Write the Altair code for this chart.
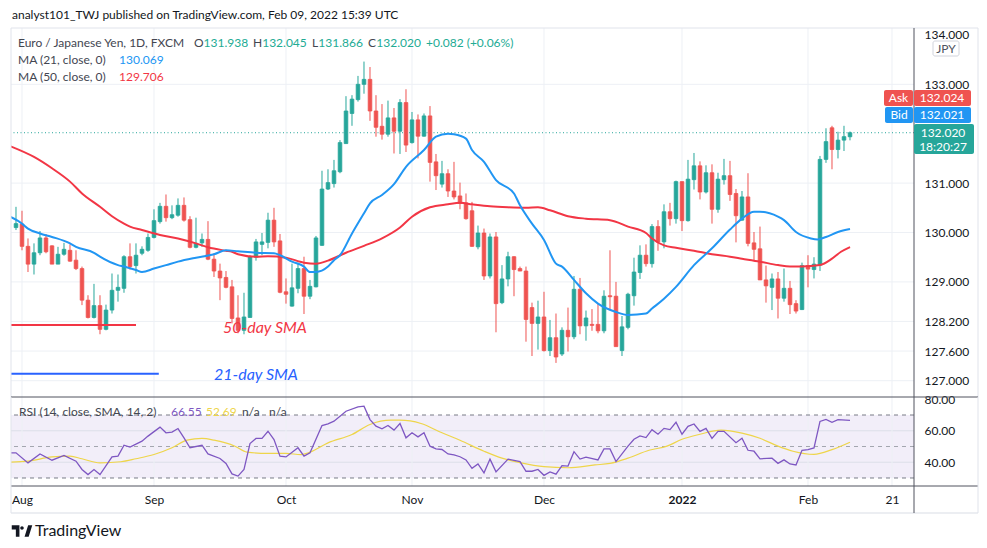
import altair as alt
import pandas as pd

# ---------------- data ----------------
bar_index = list(range(-1, 139))  # trading-day index, 0 = Aug 2 2021

opens = [130.10, 130.17, 129.72, 129.36, 129.59, 129.89, 129.73, 129.36, 129.56, 129.64,
         129.44, 129.27, 128.63, 128.28, 128.52, 128.04, 128.43, 128.83, 128.87, 129.51,
         129.33, 129.58, 129.64, 129.90, 130.22, 130.53, 130.30, 130.35, 130.55, 130.26,
         129.70, 129.79, 129.86, 129.46, 129.22, 129.09, 128.90, 128.27, 128.02, 128.28,
         129.50, 129.76, 129.80, 130.25, 129.83, 128.80, 128.51, 128.87, 129.27, 128.71,
         128.90, 129.74, 130.88, 130.99, 131.23, 131.80, 132.41, 132.69, 133.00, 133.10,
         132.46, 132.15, 131.99, 132.32, 132.05, 132.63, 131.82, 132.28, 131.95, 132.36,
         131.43, 130.98, 131.19, 130.84, 130.74, 130.60, 130.44, 129.71, 129.99, 129.12,
         129.91, 128.58, 129.06, 129.51, 129.27, 129.22, 128.48, 128.16, 128.29, 127.61,
         127.87, 127.54, 128.02, 127.89, 128.85, 128.11, 128.14, 128.14, 128.01, 128.72,
         128.71, 127.61, 128.08, 128.72, 129.19, 129.54, 129.37, 130.12, 129.81, 130.42,
         130.28, 131.03, 130.24, 131.07, 131.35, 130.82, 131.21, 130.47, 131.07, 131.15,
         130.79, 130.25, 130.72, 129.79, 129.67, 129.04, 128.89, 129.06, 128.67, 128.87,
         128.56, 128.44, 129.33, 129.25, 129.34, 131.48, 132.12, 131.68, 131.87, 131.938]
highs = [130.52, 130.44, 129.88, 129.78, 130.03, 129.97, 129.74, 129.71, 129.79, 129.76,
         129.64, 129.31, 128.73, 128.96, 128.73, 128.54, 129.17, 129.15, 129.54, 129.78,
         129.78, 129.72, 129.98, 130.47, 130.60, 130.77, 130.55, 130.69, 130.71, 130.33,
         130.30, 129.98, 130.23, 129.58, 129.37, 129.22, 129.04, 128.73, 128.78, 129.54,
         129.87, 129.99, 130.40, 130.50, 129.97, 129.07, 129.37, 129.39, 129.51, 129.04,
         129.93, 131.25, 131.28, 131.47, 131.87, 132.76, 132.78, 133.17, 133.46, 133.35,
         132.78, 132.60, 132.67, 132.52, 132.70, 132.90, 132.44, 132.39, 132.41, 132.56,
         131.59, 131.45, 131.28, 131.43, 131.01, 130.79, 130.62, 130.14, 130.08, 129.98,
         130.01, 129.34, 129.61, 129.52, 129.31, 129.31, 128.58, 128.62, 128.80, 128.23,
         128.36, 128.08, 128.48, 129.12, 129.08, 128.42, 128.45, 128.56, 128.83, 129.64,
         129.00, 128.31, 128.78, 129.49, 129.74, 129.76, 130.17, 130.25, 130.57, 130.60,
         131.05, 131.03, 131.47, 131.61, 131.44, 131.36, 131.38, 131.21, 131.49, 131.45,
         130.88, 130.84, 131.20, 130.01, 130.12, 129.33, 129.17, 129.20, 129.27, 129.02,
         128.63, 129.39, 129.54, 129.50, 131.55, 132.11, 132.16, 132.04, 132.16, 132.045]
lows = [130.05, 129.64, 129.20, 129.15, 129.54, 129.58, 129.36, 129.36, 129.53, 129.41,
        129.24, 128.53, 128.26, 128.26, 127.94, 128.02, 128.36, 128.60, 128.78, 129.25,
        129.17, 129.54, 129.61, 129.88, 130.18, 130.22, 130.27, 130.32, 130.22, 129.68,
        129.68, 129.71, 129.44, 129.10, 128.63, 128.87, 128.16, 127.96, 127.94, 128.28,
        129.43, 129.54, 129.68, 129.71, 128.77, 128.56, 128.50, 128.77, 128.35, 128.65,
        128.89, 129.73, 130.86, 130.91, 131.20, 131.80, 132.16, 132.65, 132.81, 132.26,
        131.94, 131.88, 131.94, 131.60, 131.59, 131.63, 131.80, 131.50, 131.94, 131.03,
        130.86, 130.91, 130.72, 130.67, 130.47, 130.26, 129.71, 129.66, 129.04, 129.07,
        127.98, 128.55, 128.91, 128.71, 129.22, 127.79, 127.50, 127.63, 127.59, 127.50,
        127.36, 127.50, 127.59, 127.84, 127.94, 127.81, 128.01, 127.96, 127.96, 128.43,
        127.69, 127.50, 128.04, 128.52, 129.06, 129.31, 129.29, 129.63, 129.68, 130.14,
        130.18, 130.03, 130.22, 130.87, 130.67, 130.79, 130.18, 130.40, 130.97, 130.64,
        129.80, 130.24, 129.72, 129.44, 129.04, 128.58, 128.43, 128.26, 128.60, 128.35,
        128.36, 128.43, 128.89, 129.07, 129.22, 131.41, 131.28, 131.50, 131.65, 131.866]
closes = [130.18, 129.72, 129.36, 129.59, 129.89, 129.61, 129.36, 129.56, 129.66, 129.42,
          129.27, 128.63, 128.28, 128.52, 128.04, 128.43, 128.83, 128.89, 129.51, 129.31,
          129.54, 129.66, 129.90, 130.24, 130.53, 130.30, 130.36, 130.55, 130.25, 129.70,
          129.78, 129.86, 129.46, 129.22, 129.08, 128.89, 128.26, 128.02, 128.29, 129.51,
          129.81, 129.81, 130.25, 129.81, 128.79, 128.75, 128.88, 129.27, 128.71, 128.91,
          129.89, 130.88, 131.01, 131.25, 131.82, 132.46, 132.70, 133.00, 133.10, 132.46,
          132.13, 131.99, 132.32, 132.05, 132.63, 131.77, 132.28, 131.95, 132.36, 131.42,
          131.15, 131.19, 130.84, 130.72, 130.59, 130.28, 129.72, 129.99, 129.12, 129.91,
          128.56, 129.06, 129.51, 129.25, 129.22, 128.24, 128.16, 128.29, 127.61, 127.87,
          127.48, 128.02, 127.89, 128.85, 128.11, 128.27, 128.12, 128.01, 128.71, 128.70,
          127.69, 128.09, 128.75, 129.20, 129.54, 129.37, 130.12, 129.81, 130.42, 130.28,
          131.03, 130.24, 131.08, 131.35, 130.82, 131.21, 130.47, 131.08, 131.15, 130.77,
          130.34, 130.72, 129.78, 129.66, 129.04, 128.92, 129.06, 128.67, 128.87, 128.54,
          128.41, 129.33, 129.26, 129.36, 131.48, 131.84, 131.68, 131.87, 131.94, 132.020]

ma21_idx = [-2, 0, 1, 3, 5, 8, 9, 12, 13, 16, 17, 19, 20, 22, 24, 26, 29, 32, 34, 36, 39, 42,
            43, 45, 47, 48, 49, 51, 52, 53, 55, 57, 58, 60, 62, 64, 67, 69, 71, 72, 74, 75,
            77, 79, 82, 83, 85, 87, 89, 90, 92, 94, 96, 99, 101, 104, 105, 107, 109, 112, 115,
            118, 120, 122, 123, 126, 127, 129, 131.5, 132.6, 134, 136, 138]
ma21_val = [130.32, 130.18, 130.08, 129.98, 129.91, 129.78, 129.71, 129.59, 129.51, 129.34,
            129.31, 129.24, 129.20, 129.27, 129.34, 129.41, 129.49, 129.56, 129.64, 129.62,
            129.59, 129.58, 129.54, 129.41, 129.31, 129.20, 129.20, 129.31, 129.44, 129.54,
            129.98, 130.39, 130.59, 130.76, 130.98, 131.33, 131.67, 131.94, 132.00, 131.99,
            131.90, 131.67, 131.43, 131.06, 130.79, 130.55, 130.18, 129.85, 129.37, 129.31,
            129.04, 128.77, 128.56, 128.39, 128.33, 128.36, 128.46, 128.66, 128.90, 129.34,
            129.68, 130.06, 130.28, 130.42, 130.42, 130.32, 130.25, 130.01, 129.88, 129.86,
            129.91, 130.01, 130.069]
ma50_idx = [-2, 2, 5, 8, 10, 13, 15, 17, 18, 20, 23, 26, 29, 31, 34, 35, 36, 39, 41, 44, 47,
            49, 51, 54, 57, 60, 63, 65, 68, 71, 73, 75, 78, 81, 84, 86, 88, 91, 94, 98, 101,
            104, 105, 107, 109, 112, 115, 118, 120, 123, 126, 128, 130, 133, 135, 136.5, 138]
ma50_val = [131.75, 131.53, 131.30, 131.03, 130.79, 130.52, 130.33, 130.18, 130.12, 130.05,
            129.95, 129.88, 129.78, 129.70, 129.63, 129.61, 129.56, 129.51, 129.52, 129.49,
            129.39, 129.37, 129.43, 129.59, 129.73, 129.88, 130.10, 130.32, 130.51, 130.57,
            130.60, 130.57, 130.53, 130.51, 130.50, 130.51, 130.45, 130.33, 130.28, 130.25,
            130.12, 129.99, 129.88, 129.74, 129.69, 129.63, 129.56, 129.51, 129.47, 129.41,
            129.34, 129.31, 129.31, 129.34, 129.47, 129.61, 129.706]

rsi_idx = [-2, -1, 1, 3, 5, 7, 9, 10, 11, 12, 13, 15, 16, 17, 18, 20, 21, 23, 24, 25, 26, 27,
           28, 30, 31, 33, 34, 35, 36, 37, 38, 39, 40, 41, 42, 43, 44, 46, 47, 48, 50, 51, 52,
           54, 56, 57, 58, 59, 60, 61, 62, 63, 64, 65, 66, 67, 68, 69, 70, 71, 72, 73, 74, 75,
           76, 77, 78, 79, 81, 83, 84, 85, 86, 87, 88, 89, 90, 91, 92, 93, 94, 96, 97, 98, 99,
           101, 102, 103, 104, 105, 106, 107, 108, 109, 110, 111, 112, 113, 114, 115, 116, 117,
           119, 120, 121, 122, 123, 125, 126, 127, 128, 129, 130, 131, 132, 133, 134, 135, 136,
           138]
rsi_val = [46.0, 46.0, 39.6, 45.3, 41.3, 44.3, 40.7, 35.4, 32.2, 35.4, 32.2, 43.4, 43.9, 50.8,
           49.6, 53.4, 56.6, 62.3, 58.7, 59.1, 61.4, 55.5, 49.2, 50.8, 45.3, 42.4, 39.2, 32.6,
           31.2, 35.4, 51.9, 55.1, 55.1, 59.7, 54.4, 43.9, 43.4, 49.2, 43.9, 46.0, 63.3, 64.4,
           66.1, 72.4, 75.2, 75.6, 67.1, 62.9, 61.2, 63.3, 60.4, 64.6, 55.5, 58.7, 56.1, 58.7,
           50.2, 48.5, 48.1, 45.3, 44.7, 43.5, 41.5, 36.1, 38.9, 33.3, 42.0, 33.9, 42.0, 40.4,
           34.3, 34.3, 35.4, 31.7, 33.9, 32.4, 37.8, 37.6, 46.7, 42.0, 43.3, 41.5, 48.5, 48.5,
           40.4, 50.2, 54.6, 56.7, 55.7, 60.7, 57.8, 61.5, 60.7, 65.4, 57.8, 62.8, 64.3, 59.6,
           61.5, 55.2, 59.6, 59.6, 52.4, 55.2, 47.6, 47.0, 42.2, 42.6, 39.3, 41.5, 38.9, 38.3,
           47.6, 48.0, 49.1, 65.9, 67.2, 65.4, 67.0, 66.55]
rsima_idx = [-2, 1, 5, 8, 10, 13, 16.5, 19, 22, 25, 27.5, 30, 32, 35.5, 37.5, 41, 44, 46.5, 48,
             51, 55, 58, 61.5, 63, 66.5, 70, 73, 77, 80, 83, 87, 91, 95.5, 98, 101, 104.5,
             107.5, 110, 113, 116.5, 120, 123, 126, 128.5, 132, 135, 138]
rsima_val = [40.1, 40.7, 43.4, 43.9, 42.2, 39.6, 40.3, 42.2, 44.9, 49.2, 54.0, 55.1, 54.0, 50.2,
             46.4, 45.6, 45.6, 44.9, 46.4, 52.3, 57.6, 64.0, 66.7, 66.7, 64.6, 58.7, 54.0, 47.0,
             42.6, 39.8, 37.2, 36.5, 38.3, 39.3, 42.6, 47.6, 50.2, 54.6, 57.8, 60.4, 58.5, 55.2,
             50.2, 47.0, 45.0, 48.0, 52.69]

month_idx = [0, 22, 44, 65, 87, 110, 131, 145]
month_lbl = ["Aug", "Sep", "Oct", "Nov", "Dec", "2022", "Feb", "21"]
price_ticks = [127.0, 127.6, 128.2, 129.0, 130.0, 131.0, 133.0, 134.0]
price_grid = [127.0, 127.6, 128.2, 129.0, 130.0, 131.0, 133.0]
rsi_ticks = [40, 60, 80]
rsi_grid = [40, 60]
rsi_levels = [70, 30]
rsi_mid = [50]
last_price = 132.020
note50 = pd.DataFrame({"i0": [-1.83], "i1": [19.0], "p": [128.13], "ti": [33.5], "tp": [128.07], "t": ["50-day SMA"]})
note21 = pd.DataFrame({"i0": [-1.83], "i1": [22.8], "p": [127.14], "ti": [32.0], "tp": [127.12], "t": ["21-day SMA"]})

# ---------------- style ----------------
FONT = "Lato"
GREEN = "#26a69a"
RED = "#ef5350"
MA21C = "#2196f3"
MA50C = "#f23645"
NOTE_BLUE = "#2962ff"
GRID = "#edf0f5"
DARK = "#50535e"
LIGHT = "#e0e3eb"
TXT = "#131722"
LEG = "#434651"
W, H1, H2 = 903, 369, 89
XDOM = [-1.833, 148.667]
YDOM = [126.67, 134.14]
RDOM = [24.92, 81.43]

xs = alt.Scale(domain=XDOM, nice=False, zero=False)
ys = alt.Scale(domain=YDOM, nice=False, zero=False)
rs = alt.Scale(domain=RDOM, nice=False, zero=False)
one = pd.DataFrame({"k": [0]})

# one axis object per channel, reused by every layer (so layers merge cleanly)
Y_AX = alt.Axis(orient="right", values=price_ticks, format=".3f", title=None, grid=False,
                ticks=False, domain=False, labelPadding=10, labelFont=FONT, labelFontSize=12,
                labelColor=TXT)
R_AX = alt.Axis(orient="right", values=rsi_ticks, format=".2f", title=None, grid=False,
                ticks=False, domain=False, labelPadding=10, labelFont=FONT, labelFontSize=12,
                labelColor=TXT)
label_expr = " : ".join(
    f"datum.value == {v} ? '{t}'" for v, t in zip(month_idx, month_lbl)) + " : ''"
RX_AX = alt.Axis(orient="bottom", values=month_idx, labelExpr=label_expr, title=None,
                 grid=False, ticks=False, domain=False, labelPadding=8, labelFont=FONT,
                 labelFontSize=12, labelColor=TXT,
                 labelFontWeight={"condition": {"test": "datum.value == 110", "value": "bold"},
                                  "value": "normal"})


def txt(x, y, s, color=TXT, size=12, align="left", baseline="middle", weight="normal", style="normal"):
    return alt.Chart(one).mark_text(
        align=align, baseline=baseline, font=FONT, fontSize=size, color=color,
        fontWeight=weight, fontStyle=style
    ).encode(x=alt.value(x), y=alt.value(y), text=alt.value(s))


def hline(y, x0, x1, color, width=1):
    return alt.Chart(one).mark_rule(color=color, strokeWidth=width).encode(
        x=alt.value(x0), x2=alt.value(x1), y=alt.value(y))


def vline(x, y0, y1, color, width=1):
    return alt.Chart(one).mark_rule(color=color, strokeWidth=width).encode(
        x=alt.value(x), y=alt.value(y0), y2=alt.value(y1))


def box(x0, x1, y0, y1, color, stroke=None, radius=2):
    kw = dict(color=color, cornerRadius=radius)
    if stroke:
        kw.update(stroke=stroke, strokeWidth=1)
    return alt.Chart(one).mark_rect(**kw).encode(
        x=alt.value(x0), x2=alt.value(x1), y=alt.value(y0), y2=alt.value(y1))


def PX(field):
    return alt.X(field, scale=xs, axis=None)


def PY(field):
    return alt.Y(field, scale=ys, axis=Y_AX)


def RX(field):
    return alt.X(field, scale=xs, axis=RX_AX)


def RY(field):
    return alt.Y(field, scale=rs, axis=R_AX)


# ---------------- main (price) panel ----------------
cdf = pd.DataFrame({"i": bar_index, "o": opens, "h": highs, "l": lows, "c": closes})
base = alt.Chart(cdf).transform_calculate(
    dir="datum.c >= datum.o ? 'up' : 'down'", xl="datum.i - 0.3", xr="datum.i + 0.3")
dir_scale = alt.Scale(domain=["up", "down"], range=[GREEN, RED])

ygrid = alt.Chart(pd.DataFrame({"p": price_grid})).mark_rule(color=GRID).encode(y=PY("p:Q"))
xgrid = alt.Chart(pd.DataFrame({"i": month_idx})).mark_rule(color=GRID).encode(x=PX("i:Q"))
lastline = alt.Chart(pd.DataFrame({"p": [last_price]})).mark_rule(
    color=GREEN, strokeDash=[1, 2.5], strokeWidth=1).encode(y=PY("p:Q"))

wicks = base.mark_rule(strokeWidth=1, clip=True).encode(
    x=PX("i:Q"), y=PY("l:Q"), y2="h:Q",
    color=alt.Color("dir:N", scale=dir_scale, legend=None))
bodies = base.mark_rect(strokeWidth=0.8, clip=True).encode(
    x=PX("xl:Q"), x2="xr:Q", y=PY("o:Q"), y2="c:Q",
    color=alt.Color("dir:N", scale=dir_scale, legend=None),
    stroke=alt.Stroke("dir:N", scale=dir_scale, legend=None))

ma21 = alt.Chart(pd.DataFrame({"i": ma21_idx, "v": ma21_val})).mark_line(
    color=MA21C, strokeWidth=2, clip=True, interpolate="monotone").encode(x=PX("i:Q"), y=PY("v:Q"))
ma50 = alt.Chart(pd.DataFrame({"i": ma50_idx, "v": ma50_val})).mark_line(
    color=MA50C, strokeWidth=2, clip=True, interpolate="monotone").encode(x=PX("i:Q"), y=PY("v:Q"))


def note_layers(df, color):
    line = alt.Chart(df).mark_rule(strokeWidth=2, color=color).encode(
        x=PX("i0:Q"), x2="i1:Q", y=PY("p:Q"))
    label = alt.Chart(df).mark_text(
        align="left", baseline="middle", font=FONT, fontSize=16, fontStyle="italic",
        color=color).encode(x=PX("ti:Q"), y=PY("tp:Q"), text="t:N")
    return [line, label]


TEAL_T = "#22ab94"
legend_main = [
    txt(1, -18, "analyst101_TWJ published on TradingView.com, Feb 09, 2022 15:39 UTC", baseline="top"),
    txt(7, 15, "Euro / Japanese Yen, 1D, FXCM", color=LEG),
    txt(183, 15, "O", color=LEG), txt(192.5, 15, "131.938", color=TEAL_T),
    txt(242, 15, "H", color=LEG), txt(251.2, 15, "132.045", color=TEAL_T),
    txt(301, 15, "L", color=LEG), txt(307.3, 15, "131.866", color=TEAL_T),
    txt(357, 15, "C", color=LEG), txt(365.3, 15, "132.020", color=TEAL_T),
    txt(415, 15, "+0.082 (+0.06%)", color=TEAL_T),
    txt(7, 32, "MA (21, close, 0)", color=LEG), txt(108, 32, "130.069", color=MA21C),
    txt(7, 49, "MA (50, close, 0)", color=LEG), txt(108, 49, "129.706", color=MA50C),
]

frame_main = [
    hline(0, 0, 967, LIGHT), vline(0, 0, H1, LIGHT), vline(967, 0, H1, LIGHT),
    vline(W, 0, H1, DARK),
]
labels_right = [
    box(922, 948, 13, 28, "white", stroke="#d1d4dc"),
    txt(935, 20.5, "JPY", color="#50535e", size=12, align="center"),
    box(873, 902, 62, 78, RED), txt(887.5, 70, "Ask", color="white", align="center"),
    box(903, 960, 62, 78, RED), txt(931, 70, "132.024", color="white", align="center"),
    box(874, 902, 79, 95, MA21C), txt(888, 87, "Bid", color="white", align="center"),
    box(903, 960, 79, 95, MA21C), txt(931, 87, "132.021", color="white", align="center"),
    box(903, 963, 96, 126, GREEN), txt(932, 104.5, "132.020", color="white", align="center"),
    txt(932, 119, "18:20:27", color="white", align="center"),
]

main = alt.layer(
    ygrid, xgrid, lastline, wicks, bodies, ma50, ma21,
    *note_layers(note50, MA50C), *note_layers(note21, NOTE_BLUE),
    *frame_main, *legend_main, *labels_right
).properties(width=W, height=H1)

# ---------------- RSI panel ----------------
band = alt.Chart(pd.DataFrame({"lo": [30], "hi": [70]})).mark_rect(
    color="#7e57c2", opacity=0.1).encode(
    x=alt.value(0), x2=alt.value(W), y=RY("hi:Q"), y2="lo:Q")
rgrid = alt.Chart(pd.DataFrame({"r": rsi_grid})).mark_rule(color="#dcdfe8").encode(y=RY("r:Q"))
rxgrid = alt.Chart(pd.DataFrame({"i": month_idx})).mark_rule(color=GRID).encode(x=RX("i:Q"))
lvl = alt.Chart(pd.DataFrame({"r": rsi_levels})).mark_rule(
    color="#787b86", strokeDash=[4, 4]).encode(y=RY("r:Q"))
mid = alt.Chart(pd.DataFrame({"r": rsi_mid})).mark_rule(
    color="#a3a6af", strokeDash=[4, 4]).encode(y=RY("r:Q"))
rsima = alt.Chart(pd.DataFrame({"i": rsima_idx, "v": rsima_val})).mark_line(
    color="#eed54a", strokeWidth=1.2, clip=True, interpolate="monotone").encode(
    x=RX("i:Q"), y=RY("v:Q"))
rsi = alt.Chart(pd.DataFrame({"i": rsi_idx, "v": rsi_val})).mark_line(
    color="#7e57c2", strokeWidth=1.3, clip=True).encode(x=RX("i:Q"), y=RY("v:Q"))

legend_rsi = [
    txt(8, 15, "RSI (14, close, SMA, 14, 2)", color=LEG),
    txt(160, 15, "66.55", color="#7e57c2"),
    txt(195, 15, "52.69", color="#eed54a"),
    txt(231, 15, "n/a", color=LEG),
    txt(258, 15, "n/a", color=LEG),
]
frame_rsi = [
    hline(0, 0, 967, DARK), hline(H2, 0, 967, DARK), hline(116, 0, 967, "#eceef2", 2),
    vline(0, 0, 116, LIGHT), vline(967, 0, 116, LIGHT), vline(W, 0, 116, DARK),
]
logo_path = ("M-1,-0.55 L-0.25,-0.55 L-0.25,0.55 L-0.6,0.55 L-0.6,-0.15 L-1,-0.15 Z "
             "M-0.17,-0.3 A0.17,0.17 0 1,0 0.17,-0.3 A0.17,0.17 0 1,0 -0.17,-0.3 Z "
             "M0.25,0.55 L0.6,-0.55 L1,-0.55 L0.65,0.55 Z")
logo = alt.Chart(one).mark_point(shape=logo_path, filled=True, color=TXT, size=420, opacity=1).encode(
    x=alt.value(11), y=alt.value(134))
brand = txt(24, 134, "TradingView", color=TXT, size=16)

rsi_panel = alt.layer(
    band, rgrid, rxgrid, lvl, mid, rsima, rsi, *legend_rsi, *frame_rsi, logo, brand
).properties(width=W, height=H2)

chart = alt.vconcat(main, rsi_panel, spacing=0, bounds="flush").properties(
    padding={"left": 2, "top": 1, "right": 0, "bottom": 0},
    background="white",
).configure_view(stroke=None)

chart.save("out.html", embed_options={"renderer": "svg", "actions": False})
